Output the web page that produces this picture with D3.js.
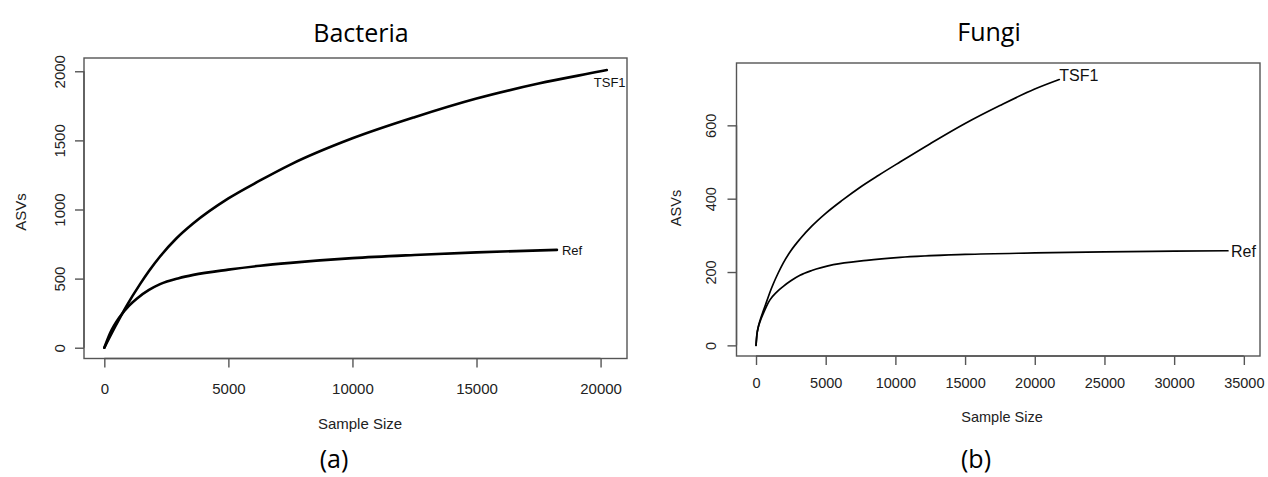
<!DOCTYPE html>
<html>
<head>
<meta charset="utf-8">
<script src="https://cdn.jsdelivr.net/npm/d3@7"></script>
<style>
  html, body { margin: 0; padding: 0; background: #fff; }
  svg { display: block; }
</style>
</head>
<body>
<svg id="chart" width="1268" height="477"></svg>
<script>
// ---------------- DATA ----------------
// Bacteria panel
const bactXTicks = [0, 5000, 10000, 15000, 20000];
const bactYTicks = [0, 500, 1000, 1500, 2000];
const bactTSF1Samples = [0, 431, 903, 1440, 1800, 2246, 2900, 3589, 5000, 6278, 7500, 10000, 12500, 15000, 17500, 20000, 20250];
const bactTSF1Values  = [0, 150, 305, 460, 555, 660, 790, 900, 1080, 1210, 1325, 1515, 1668, 1803, 1911, 2000, 2009];
const bactRefSamples  = [0, 230, 633, 1000, 1306, 1800, 2246, 3000, 3589, 5000, 6278, 7500, 10000, 12500, 15000, 18240];
const bactRefValues   = [0, 104, 226, 305, 355, 418, 460, 503, 527, 565, 593, 614, 648, 671, 690, 708];

// Fungi panel
const fungXTicks = [0, 5000, 10000, 15000, 20000, 25000, 30000, 35000];
const fungYTicks = [0, 200, 400, 600];
const fungTSF1Samples = [0, 60, 167, 300, 524, 767, 1000, 1243, 1600, 1960, 2500, 3156, 4000, 5000, 6200, 7500, 8800, 10330, 12500, 15000, 17500, 20000, 21760];
const fungTSF1Values  = [0, 28, 51, 69, 94, 120, 145, 168, 198, 225, 258, 290, 325, 360, 396, 432, 464, 500, 550, 605, 654, 699, 725];
const fungRefSamples  = [0, 60, 167, 300, 524, 767, 1000, 1500, 1960, 2500, 3156, 4000, 5546, 7940, 10330, 15000, 20000, 25000, 30000, 33860];
const fungRefValues   = [0, 28, 50, 66, 87, 108, 124, 146, 161, 176, 191, 204, 220, 232, 240, 248, 252, 255, 257, 258];

const seriesNames = ["TSF1", "Ref"];
const panelTitles = ["Bacteria", "Fungi"];
const panelTags = ["(a)", "(b)"];
const xAxisTitle = "Sample Size";
const yAxisTitle = "ASVs";

// ---------------- DRAW ----------------
const svg = d3.select("#chart");

function drawPanel(cfg) {
  const g = svg.append("g");
  const x = d3.scaleLinear().domain(cfg.xlim).range([cfg.box.left, cfg.box.right]);
  const y = d3.scaleLinear().domain(cfg.ylim).range([cfg.box.bottom, cfg.box.top]);

  // plot box
  g.append("rect")
    .attr("x", cfg.box.left).attr("y", cfg.box.top)
    .attr("width", cfg.box.right - cfg.box.left)
    .attr("height", cfg.box.bottom - cfg.box.top)
    .attr("fill", "none").attr("stroke", "#555").attr("stroke-width", 1.4);

  // x axis
  const xAxis = d3.axisBottom(x).tickValues(cfg.xTicks).tickSize(cfg.tickLen).tickPadding(cfg.xPad).tickFormat(d3.format("d"));
  const xg = g.append("g").attr("transform", `translate(0,${cfg.box.bottom})`).call(xAxis);
  xg.select(".domain").attr("stroke", "#555").attr("stroke-width", 1.4)
    .attr("d", `M${x(cfg.xTicks[0])},0H${x(cfg.xTicks[cfg.xTicks.length-1])}`);
  xg.selectAll(".tick line").attr("stroke", "#555").attr("stroke-width", 1.4);
  xg.selectAll(".tick text").attr("fill", "#222")
    .style("font-family", "'Liberation Sans', Arial, sans-serif").style("font-size", cfg.tickFont + "px");

  // y axis
  const yAxis = d3.axisLeft(y).tickValues(cfg.yTicks).tickSize(cfg.tickLen).tickFormat(d3.format("d"));
  const yg = g.append("g").attr("transform", `translate(${cfg.box.left},0)`).call(yAxis);
  yg.select(".domain").attr("stroke", "#555").attr("stroke-width", 1.4)
    .attr("d", `M0,${y(cfg.yTicks[0])}V${y(cfg.yTicks[cfg.yTicks.length-1])}`);
  yg.selectAll(".tick line").attr("stroke", "#555").attr("stroke-width", 1.4);
  yg.selectAll(".tick text").remove();
  yg.selectAll(".tick").append("text")
    .attr("transform", `translate(${cfg.yLabelX - cfg.box.left},0) rotate(-90)`)
    .attr("text-anchor", "middle")
    .attr("fill", "#222")
    .style("font-family", "'Liberation Sans', Arial, sans-serif").style("font-size", cfg.tickFont + "px")
    .text(d => d);

  // curves
  const line = d3.line().x(d => x(d[0])).y(d => y(d[1])).curve(d3.curveMonotoneX);
  cfg.series.forEach(s => {
    const pts = s.samples.map((v, i) => [v, s.values[i]]);
    g.append("path").datum(pts).attr("d", line)
      .attr("fill", "none").attr("stroke", "#000").attr("stroke-width", cfg.lineW)
      .attr("stroke-linejoin", "round").attr("stroke-linecap", "round");
    const last = pts[pts.length - 1];
    g.append("text")
      .attr("x", x(last[0]) + s.dx).attr("y", y(last[1]) + s.dy)
      .attr("fill", "#111")
      .style("font-family", "'Liberation Sans', Arial, sans-serif").style("font-size", cfg.labelFont + "px")
      .text(s.name);
  });

  // axis titles
  g.append("text").attr("x", cfg.xTitle[0]).attr("y", cfg.xTitle[1]).attr("text-anchor", "middle")
    .attr("fill", "#222").style("font-family", "'Liberation Sans', Arial, sans-serif").style("font-size", cfg.axisFont + "px")
    .text(xAxisTitle);
  g.append("text").attr("transform", `translate(${cfg.yTitle[0]},${cfg.yTitle[1]}) rotate(-90)`).attr("text-anchor", "middle")
    .attr("fill", "#222").style("font-family", "'Liberation Sans', Arial, sans-serif").style("font-size", cfg.axisFont + "px")
    .text(yAxisTitle);

  // panel title and tag
  g.append("text").attr("x", cfg.title[0]).attr("y", cfg.title[1]).attr("text-anchor", "middle")
    .attr("fill", "#000").style("font-family", "'Open Sans', sans-serif").style("font-size", "25px")
    .text(cfg.titleText);
  g.append("text").attr("x", cfg.tag[0]).attr("y", cfg.tag[1]).attr("text-anchor", "middle")
    .attr("fill", "#000").style("font-family", "'Open Sans', sans-serif").style("font-size", "25px")
    .text(cfg.tagText);
}

drawPanel({
  box: { left: 84, right: 627, top: 58, bottom: 358.5 },
  xlim: [-819, 21065], ylim: [-78, 2096],
  xTicks: bactXTicks, yTicks: bactYTicks,
  tickLen: 9, xPad: 16, tickFont: 15, labelFont: 13, axisFont: 15, lineW: 2.6,
  yLabelX: 65,
  series: [
    { name: seriesNames[0], samples: bactTSF1Samples, values: bactTSF1Values, dx: -13, dy: 17 },
    { name: seriesNames[1], samples: bactRefSamples, values: bactRefValues, dx: 5, dy: 5 }
  ],
  xTitle: [360, 429], yTitle: [26, 212],
  title: [361, 41.5], titleText: panelTitles[0],
  tag: [334, 468], tagText: panelTags[0]
});

drawPanel({
  box: { left: 736.5, right: 1260, top: 63, bottom: 356 },
  xlim: [-1400, 36160], ylim: [-29, 770],
  xTicks: fungXTicks, yTicks: fungYTicks,
  tickLen: 9, xPad: 13, tickFont: 14.5, labelFont: 16, axisFont: 14.5, lineW: 1.7,
  yLabelX: 716,
  series: [
    { name: seriesNames[0], samples: fungTSF1Samples, values: fungTSF1Values, dx: 0, dy: 1 },
    { name: seriesNames[1], samples: fungRefSamples, values: fungRefValues, dx: 3, dy: 6 }
  ],
  xTitle: [1002, 422], yTitle: [681, 208],
  title: [989, 41], titleText: panelTitles[1],
  tag: [976, 468], tagText: panelTags[1]
});
</script>
</body>
</html>
